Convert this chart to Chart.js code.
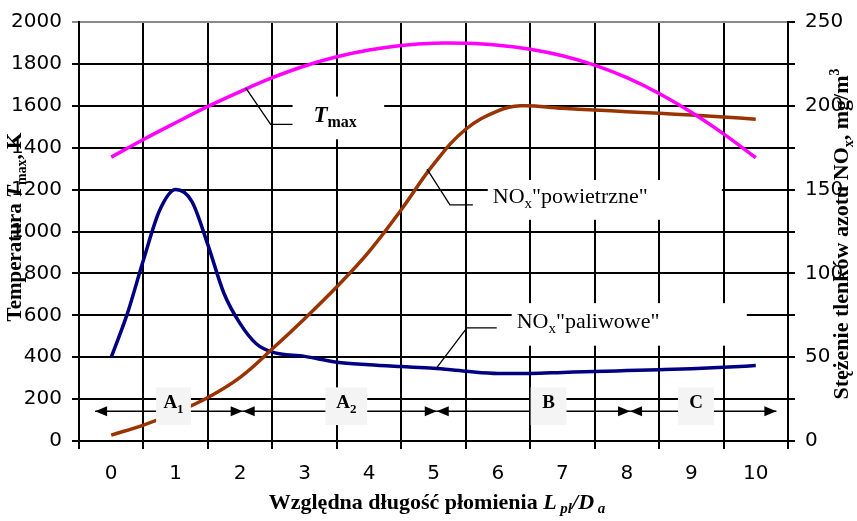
<!DOCTYPE html>
<html><head><meta charset="utf-8">
<script src="https://cdn.jsdelivr.net/npm/chart.js@4.4.1/dist/chart.umd.min.js"></script>
<style>html,body{margin:0;padding:0;background:#fff;}canvas{display:block;}</style>
</head><body>
<canvas id="c" width="857" height="521"></canvas>
<script>
// ---- data ----
const xTickLabels = [0,1,2,3,4,5,6,7,8,9,10];
const leftTickLabels = [0,200,400,600,800,1000,1200,1400,1600,1800,2000];
const rightTickLabels = [0,50,100,150,200,250];

const tmaxX = [0,0.5,1,1.5,2,2.5,3,3.5,4,4.5,5,5.5,6,6.5,7,7.5,8,8.5,9,9.5,10];
const tmaxY = [1355,1439,1519,1597,1668,1734,1790,1834,1866,1888,1899,1898,1889,1870,1839,1794,1734,1659,1569,1466,1352];

const powX = [0,0.5,1,1.5,2,2.5,3,3.5,4,4.5,5,5.5,6,6.35,7,7.5,8,8.5,9,9.5,10];
const powY = [3.5,9.5,17,26,38,55,73,92,113,138,165,186,197,200,198.5,197.5,196.5,195.5,194.5,193.3,192];

const palX = [0,0.25,0.5,0.75,1,1.25,1.5,1.75,2,2.25,2.5,3,3.5,4,4.5,5,5.5,6,6.5,7,7.5,8,8.5,9,9.5,10];
const palY = [50,76,108,137.5,150,143,117,88,70,58,53,50.5,47,45.5,44.4,43.4,41.6,40.3,40.3,40.9,41.5,42,42.5,43.1,44,45];

const sectionBounds = [-0.25, 2.04, 5.05, 8.05, 10.32];
const sectionLabels = [['A','1'],['A','2'],['B',''],['C','']];
const sectionBoxes = [[0.696,1.236],[3.323,3.972],[6.507,7.063],[8.794,9.351]];

const pts = (xs, ys) => xs.map((x,i)=>({x, y: ys[i]}));

const SERIF = '"Liberation Serif", "Times New Roman", serif';

function drawRich(ctx, parts, x, y, align) {
  let w = 0;
  parts.forEach(p => { ctx.font = p.font; p.w = ctx.measureText(p.t).width; w += p.w; });
  let cx = align === 'center' ? x - w/2 : x;
  parts.forEach(p => { ctx.font = p.font; ctx.fillText(p.t, cx, y + (p.dy||0)); cx += p.w; });
}

const annot = {
  id: 'annot',
  beforeDatasetsDraw(chart) {
    const ctx = chart.ctx, xs = chart.scales.x, ys = chart.scales.y;
    const P = (a,b) => [xs.getPixelForValue(a), ys.getPixelForValue(b)];
    ctx.save();
    ctx.fillStyle = '#fff';
    const boxes = [[2.813,4.235,1644,1440],[5.842,9.474,1246,1056],[6.213,9.861,658,455]];
    boxes.forEach(b => {
      const [x1,y1] = P(b[0],b[2]); const [x2,y2] = P(b[1],b[3]);
      ctx.fillRect(x1,y1,x2-x1,y2-y1);
    });
    ctx.restore();
  },
  afterDatasetsDraw(chart) {
    const ctx = chart.ctx, xs = chart.scales.x, ys = chart.scales.y;
    const P = (a,b) => [xs.getPixelForValue(a), ys.getPixelForValue(b)];
    ctx.save();
    ctx.strokeStyle = '#000'; ctx.fillStyle = '#000'; ctx.lineWidth = 1.3;
    // leaders
    const leaders = [
      [[2.087,1686],[2.473,1511],[2.813,1511]],
      [[4.900,1298],[5.255,1127],[5.611,1127]],
      [[5.054,351],[5.518,540],[5.981,540]]
    ];
    leaders.forEach(l => {
      ctx.beginPath();
      l.forEach((p,i) => { const [a,b] = P(p[0],p[1]); i ? ctx.lineTo(a,b) : ctx.moveTo(a,b); });
      ctx.stroke();
    });
    ctx.textBaseline = 'alphabetic';
    let [tx,ty] = P(3.137,1521);
    drawRich(ctx, [
      {t:'T', font:'bold italic 23px '+SERIF},
      {t:'max', font:'bold 16px '+SERIF, dy:5}
    ], tx, ty, 'left');
    [tx,ty] = P(5.920,1137);
    drawRich(ctx, [
      {t:'NO', font:'22px '+SERIF},
      {t:'x', font:'15px '+SERIF, dy:5},
      {t:'"powietrzne"', font:'22px '+SERIF}
    ], tx, ty, 'left');
    [tx,ty] = P(6.291,540);
    drawRich(ctx, [
      {t:'NO', font:'22px '+SERIF},
      {t:'x', font:'15px '+SERIF, dy:5},
      {t:'"paliwowe"', font:'22px '+SERIF}
    ], tx, ty, 'left');

    // section arrows
    const ay = ys.getPixelForValue(142);
    const head = (tip, dir) => {
      ctx.beginPath();
      ctx.moveTo(tip, ay);
      ctx.lineTo(tip - dir*12, ay - 5);
      ctx.lineTo(tip - dir*12, ay + 5);
      ctx.closePath(); ctx.fill();
    };
    ctx.lineWidth = 1.3;
    for (let i=0;i<sectionBounds.length-1;i++) {
      const a = xs.getPixelForValue(sectionBounds[i]);
      const b = xs.getPixelForValue(sectionBounds[i+1]);
      ctx.beginPath(); ctx.moveTo(a, ay); ctx.lineTo(b, ay); ctx.stroke();
      head(a, -1); head(b, 1);
    }
    // section boxes & labels
    sectionBoxes.forEach((bx,i) => {
      const [x1,y1] = P(bx[0],256); const [x2,y2] = P(bx[1],76);
      ctx.fillStyle = '#f4f4f4';
      ctx.fillRect(x1,y1,x2-x1,y2-y1);
      ctx.fillStyle = '#000';
      const parts = [{t:sectionLabels[i][0], font:'bold 19px '+SERIF}];
      if (sectionLabels[i][1]) parts.push({t:sectionLabels[i][1], font:'bold 13px '+SERIF, dy:5});
      drawRich(ctx, parts, (x1+x2)/2, ys.getPixelForValue(156), 'center');
    });

    // axis titles
    const ca = chart.chartArea;
    ctx.save();
    ctx.translate(21, ca.top + 205);
    ctx.rotate(-Math.PI/2);
    drawRich(ctx, [
      {t:'Temperatura ', font:'bold 21px '+SERIF},
      {t:'T', font:'bold italic 21px '+SERIF},
      {t:'max', font:'bold 14px '+SERIF, dy:5},
      {t:', K', font:'bold 21px '+SERIF}
    ], 0, 0, 'center');
    ctx.restore();

    ctx.save();
    ctx.translate(848, ca.top + 212);
    ctx.rotate(-Math.PI/2);
    drawRich(ctx, [
      {t:'Stężenie tlenków azotu NO', font:'bold 22px '+SERIF},
      {t:'x', font:'bold 14px '+SERIF, dy:5},
      {t:', mg/m', font:'bold 22px '+SERIF},
      {t:'3', font:'bold 14px '+SERIF, dy:-9}
    ], 0, 0, 'center');
    ctx.restore();

    drawRich(ctx, [
      {t:'Względna długość płomienia ', font:'bold 22px '+SERIF},
      {t:'L', font:'bold italic 22px '+SERIF},
      {t:' pl', font:'bold italic 15px '+SERIF, dy:4},
      {t:'/D', font:'bold italic 22px '+SERIF},
      {t:' a', font:'bold italic 15px '+SERIF, dy:4}
    ], 437, 509, 'center');
    ctx.restore();
  }
};

const tickFont = {family: '"DejaVu Sans", sans-serif', size: 20};

new Chart(document.getElementById('c'), {
  type: 'line',
  data: {
    datasets: [
      {label:'Tmax', data: pts(tmaxX,tmaxY), yAxisID:'y', borderColor:'#ff00ff', borderWidth:3.5, pointRadius:0, tension:0.4, fill:false},
      {label:'NOx powietrzne', data: pts(powX,powY), yAxisID:'y2', borderColor:'#993300', borderWidth:3.5, pointRadius:0, tension:0.4, fill:false},
      {label:'NOx paliwowe', data: pts(palX,palY), yAxisID:'y2', borderColor:'#000080', borderWidth:3.5, pointRadius:0, cubicInterpolationMode:'monotone', fill:false}
    ]
  },
  options: {
    responsive: false,
    animation: false,
    devicePixelRatio: 1,
    layout: {padding: {top: 19, left: 0, right: 0, bottom: 0}},
    plugins: {legend: {display:false}, tooltip: {enabled:false}},
    scales: {
      x: {
        type: 'linear', min: -0.5, max: 10.5,
        afterFit: s => { s.height = 80; },
        ticks: {stepSize: 0.5, autoSkip: false, maxRotation: 0, color:'#000', font: tickFont, padding: 13,
          callback: v => xTickLabels.includes(v) ? String(v) : ''},
        grid: {color: c => (c.tick && Number.isInteger(c.tick.value)) ? 'rgba(0,0,0,0)' : '#000', lineWidth: 2, tickLength: 8},
        border: {color:'#000', width: 2}
      },
      y: {
        position: 'left', min: 0, max: 2000,
        afterFit: s => { s.width = 79; },
        ticks: {stepSize: 200, autoSkip: false, color:'#000', font: tickFont, padding: 10,
          callback: v => leftTickLabels.includes(v) ? String(v) : ''},
        grid: {color: c => (c.tick && c.tick.value === 2000) ? '#8a8a8a' : '#000', lineWidth: 2, tickLength: 7},
        border: {color:'#000', width: 2}
      },
      y2: {
        position: 'right', min: 0, max: 250,
        afterFit: s => { s.width = 69; },
        ticks: {stepSize: 25, autoSkip: false, color:'#000', font: tickFont, padding: 10,
          callback: v => rightTickLabels.includes(v) ? String(v) : ''},
        grid: {drawOnChartArea: false, color:'#000', lineWidth: 2, tickLength: 7},
        border: {color:'#000', width: 2}
      }
    }
  },
  plugins: [annot]
});
</script>
</body></html>
